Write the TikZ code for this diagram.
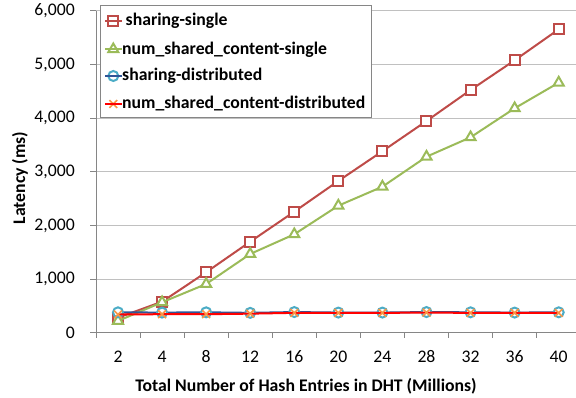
\documentclass[tikz,border=0pt]{standalone}
\usepackage{fontspec}
\setmainfont{Carlito}
\usetikzlibrary{plotmarks}

\definecolor{sred}{HTML}{BE4B48}
\definecolor{sgreen}{HTML}{9BBB59}
\definecolor{scyan}{HTML}{4BACC6}
\definecolor{sblue}{HTML}{2F5597}
\definecolor{xred}{HTML}{FF0000}
\definecolor{xorange}{HTML}{F79646}
\definecolor{gridc}{HTML}{C0C0C0}
\definecolor{axisc}{HTML}{868686}

\tikzset{
  gridline/.style={gridc, line width=1pt},
  axisline/.style={axisc, line width=1pt},
  ticklabel/.style={font=\fontsize{17.7}{20}\selectfont, inner sep=0pt},
  axistitle/.style={font=\bfseries\fontsize{17.7}{20}\selectfont, inner sep=0pt},
  legendtext/.style={font=\bfseries\fontsize{17.7}{20}\selectfont, inner sep=0pt, anchor=west},
  serA/.style={sred, line width=2pt, mark=square*, mark size=5pt,
    mark options={solid, draw=sred, fill=white}},
  serB/.style={sgreen, line width=2pt, mark=triangle*, mark size=5.8pt,
    mark options={solid, draw=sgreen, fill=white}},
  serC/.style={sblue, line width=2pt, mark=*, mark size=5pt,
    mark options={solid, draw=scyan, fill=white}},
  serD/.style={xred, line width=2pt, mark=x, mark size=5.5pt,
    mark options={solid, draw=xorange, line width=1.6pt}},
}

\begin{document}
\begin{tikzpicture}[x=1pt, y=1pt]
\useasboundingbox (0,0) rectangle (576,398);

% horizontal grid lines and value labels
\foreach \v in {1,...,6} {
  \draw[gridline] (96,{65.3+53.62*\v}) -- (576,{65.3+53.62*\v});
}
\foreach \v/\lab in {0/0,1/{1,000},2/{2,000},3/{3,000},4/{4,000},5/{5,000},6/{6,000}} {
  \draw[axisline] (90,{65.3+53.62*\v}) -- (96,{65.3+53.62*\v});
  \node[ticklabel, anchor=east] (yl\v) at (75,{65.3+53.62*\v}) {\lab};
}

% axes
\draw[axisline] (96,65.3) -- (96,387);
\draw[axisline] (96,65.3) -- (576,65.3);
\foreach \k in {0,...,10} {
  \draw[axisline] ({96+44.07*\k},65.3) -- ({96+44.07*\k},60);
}
\foreach \lab [count=\i from 0] in {2,4,8,12,16,20,24,28,32,36,40} {
  \node[ticklabel] (xl\i) at ({118+44.07*\i},41.3) {\lab};
}

% axis titles
\node[axistitle] (xtitle) at (306,11.3) {Total Number of Hash Entries in DHT (Millions)};
\node[axistitle, rotate=90] (ytitle) at (20,220) {Latency (ms)};

% data series
\begin{scope}[shift={(118,65.3)}, x=44.07pt, y=0.05362pt]
  \draw[serA] plot coordinates {(0,280) (1,578) (2,1127) (3,1697) (4,2257) (5,2830)
    (6,3385) (7,3948) (8,4526) (9,5080) (10,5658)};
  \draw[serB] plot coordinates {(0,220) (1,567) (2,908) (3,1468) (4,1835) (5,2369)
    (6,2723) (7,3282) (8,3644) (9,4185) (10,4663)};
  \draw[serC] plot coordinates {(0,380) (1,375) (2,380) (3,370) (4,385) (5,375)
    (6,375) (7,385) (8,380) (9,375) (10,380)};
  \draw[serD] plot coordinates {(0,340) (1,345) (2,345) (3,355) (4,370) (5,370)
    (6,370) (7,375) (8,370) (9,370) (10,370)};
\end{scope}

% legend: marker first, then the series line across it
\draw[axisline, fill=white] (100,280.7) rectangle (371,392.3);
\foreach \sty/\yy in {serA/377.3, serB/348.7, serC/322, serD/294} {
  \draw[\sty] plot coordinates {(113.3,\yy)};
  \draw[\sty, mark=none] (105,\yy) -- (121.7,\yy);
}
\node[legendtext] (lgA) at (125.5,377.3) {sharing-single};
\node[legendtext] (lgB) at (122,348.7) {num\_shared\_content-single};
\node[legendtext] (lgC) at (122,322) {sharing-distributed};
\node[legendtext] (lgD) at (122,294) {num\_shared\_content-distributed};
\end{tikzpicture}
\end{document}
